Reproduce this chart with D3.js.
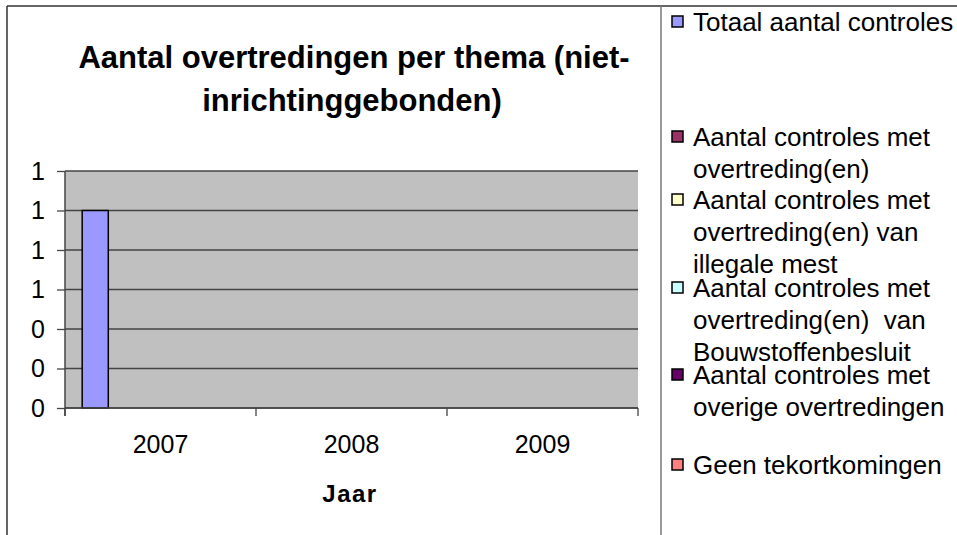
<!DOCTYPE html>
<html>
<head>
<meta charset="utf-8">
<script src="https://cdn.jsdelivr.net/npm/d3@7"></script>
<style>
  body { margin: 0; background: #fff; }
  svg { display: block; font-family: "Liberation Sans", Arial, sans-serif; }
</style>
</head>
<body>
<svg id="chart" width="957" height="535"></svg>
<script>
// data
var years = ["2007", "2008", "2009"];
var seriesNames = [
  "Totaal aantal controles",
  "Aantal controles met overtreding(en)",
  "Aantal controles met overtreding(en) van illegale mest",
  "Aantal controles met overtreding(en)  van Bouwstoffenbesluit",
  "Aantal controles met overige overtredingen",
  "Geen tekortkomingen"
];
var totaal      = [1, 0, 0];
var metOvertr   = [0, 0, 0];
var illegaleMest= [0, 0, 0];
var bouwstoffen = [0, 0, 0];
var overige     = [0, 0, 0];
var geenTekort  = [0, 0, 0];
var yTicks = [0, 0.2, 0.4, 0.6, 0.8, 1.0, 1.2];
var colors = ["#9999ff", "#993366", "#ffffcc", "#ccffff", "#660066", "#ff8080"];
// legend lines as wrapped in the picture
var legendLines = [
  ["Totaal aantal controles"],
  ["Aantal controles met", "overtreding(en)"],
  ["Aantal controles met", "overtreding(en) van", "illegale mest"],
  ["Aantal controles met", "overtreding(en)  van", "Bouwstoffenbesluit"],
  ["Aantal controles met", "overige overtredingen"],
  ["Geen tekortkomingen"]
];

var values = [totaal, metOvertr, illegaleMest, bouwstoffen, overige, geenTekort];
var table = years.map(function(yr, i) {
  return { year: yr, vals: values.map(function(s, k) { return { k: k, v: s[i] }; }) };
});

var svg = d3.select("#chart");
var pLeft = 65, pRight = 638, pTop = 171, pBottom = 408;

// outer frame
svg.append("line").attr("x1", 7).attr("y1", 6).attr("x2", 957).attr("y2", 6)
  .style("stroke", "#333").style("stroke-width", 1.5);
svg.append("line").attr("x1", 7).attr("y1", 6).attr("x2", 7).attr("y2", 535)
  .style("stroke", "#333").style("stroke-width", 1.5);
svg.append("line").attr("x1", 661).attr("y1", 6).attr("x2", 661).attr("y2", 535)
  .style("stroke", "#777").style("stroke-width", 1.5);

// title
svg.append("text").attr("x", 354).attr("y", 68).attr("text-anchor", "middle")
  .style("font-size", "31px").style("font-weight", "bold")
  .text("Aantal overtredingen per thema (niet-");
svg.append("text").attr("x", 352).attr("y", 111).attr("text-anchor", "middle")
  .style("font-size", "31px").style("font-weight", "bold")
  .text("inrichtinggebonden)");

var x0 = d3.scaleBand().domain(years).range([pLeft, pRight]).padding(0);
var x1 = d3.scaleBand().domain(d3.range(seriesNames.length))
  .range([x0.bandwidth() * 0.09, x0.bandwidth() * 0.91]).padding(0);
var y = d3.scaleLinear().domain([0, 1.2]).range([pBottom, pTop]);

// plot area
svg.append("rect").attr("x", pLeft).attr("y", pTop)
  .attr("width", pRight - pLeft).attr("height", pBottom - pTop).style("fill", "#c0c0c0");

svg.append("g").selectAll("line").data(yTicks).join("line")
  .attr("x1", pLeft).attr("x2", pRight)
  .attr("y1", function(d) { return y(d); }).attr("y2", function(d) { return y(d); })
  .style("stroke", "#444").style("stroke-width", 1.3);

// bars
svg.append("g").selectAll("g").data(table).join("g")
  .attr("transform", function(d) { return "translate(" + x0(d.year) + ",0)"; })
  .selectAll("rect").data(function(d) { return d.vals; }).join("rect")
  .attr("x", function(d) { return x1(d.k); })
  .attr("y", function(d) { return y(d.v); })
  .attr("width", x1.bandwidth())
  .attr("height", function(d) { return y(0) - y(d.v); })
  .style("fill", function(d) { return colors[d.k]; })
  .style("stroke", function(d) { return d.v > 0 ? "#000" : "none"; })
  .style("stroke-width", 1.5);

// y axis
var yAxis = d3.axisLeft(y).tickValues(yTicks).tickFormat(d3.format(".0f"))
  .tickSize(8).tickPadding(12);
var gy = svg.append("g").attr("transform", "translate(" + pLeft + ",0)").call(yAxis);
gy.select(".domain").remove();
gy.append("line").attr("x1", 0).attr("x2", 0).attr("y1", pTop).attr("y2", pBottom + 8)
  .style("stroke", "#444").style("stroke-width", 1.5);
gy.selectAll(".tick line").style("stroke", "#444").style("stroke-width", 1.3);
gy.selectAll(".tick text").style("font-size", "25px").style("fill", "#000")
  .attr("font-family", "Liberation Sans, Arial, sans-serif");

// x axis
var gx = svg.append("g").attr("transform", "translate(0," + pBottom + ")");
gx.append("line").attr("x1", pLeft).attr("x2", pRight).attr("y1", 0).attr("y2", 0)
  .style("stroke", "#444").style("stroke-width", 1.5);
gx.selectAll("line.tk").data(x0.domain().concat(["end"])).join("line").attr("class", "tk")
  .attr("x1", function(d) { return d === "end" ? pRight : x0(d); })
  .attr("x2", function(d) { return d === "end" ? pRight : x0(d); })
  .attr("y1", 0).attr("y2", 8)
  .style("stroke", "#444").style("stroke-width", 1.3);
gx.selectAll("text").data(years).join("text")
  .attr("x", function(d) { return x0(d) + x0.bandwidth() / 2; })
  .attr("y", 45).attr("text-anchor", "middle")
  .style("font-size", "25px").text(function(d) { return d; });

svg.append("text").attr("x", 350).attr("y", 502).attr("text-anchor", "middle")
  .style("font-size", "24px").style("font-weight", "bold").style("letter-spacing", "1.5px")
  .text("Jaar");

// legend
var legendY = [31, 146, 209, 297, 384, 474];
var lineH = 32;
var lg = svg.append("g").selectAll("g").data(legendLines).join("g")
  .attr("transform", function(d, i) { return "translate(672," + legendY[i] + ")"; });
lg.append("rect").attr("x", 0).attr("y", -15).attr("width", 11).attr("height", 11)
  .style("fill", function(d, i) { return colors[i]; })
  .style("stroke", "#000").style("stroke-width", 1.5);
lg.selectAll("text").data(function(d) { return d; }).join("text")
  .attr("x", 21).attr("y", function(d, j) { return j * lineH; })
  .style("font-size", "26px").style("white-space", "pre")
  .text(function(d) { return d; });
</script>
</body>
</html>
